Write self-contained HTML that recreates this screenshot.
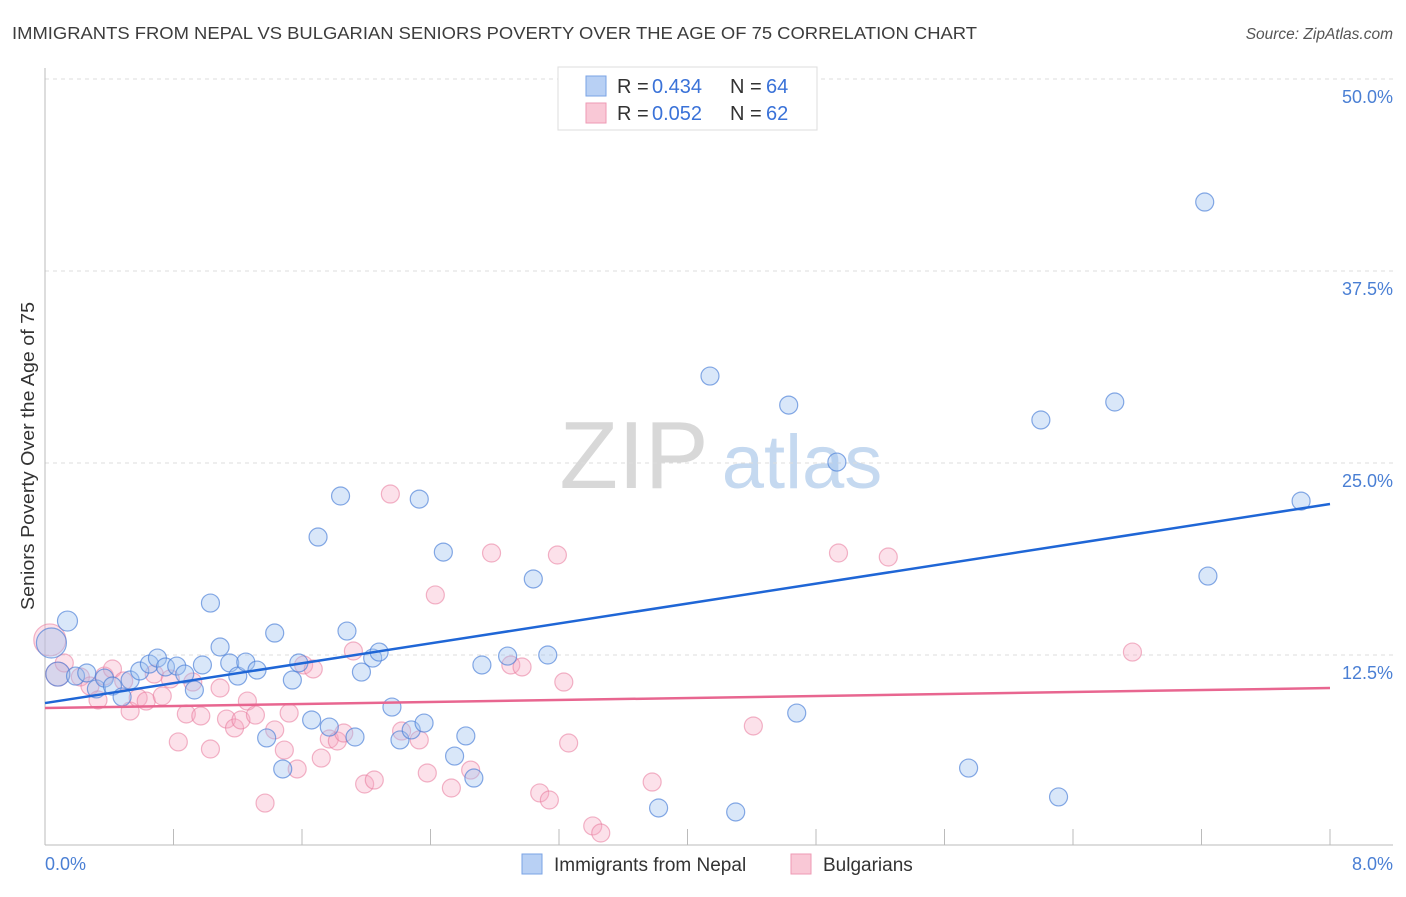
<!DOCTYPE html>
<html><head><meta charset="utf-8"><style>
body{margin:0;background:#fff;font-family:"Liberation Sans",sans-serif}
svg text{font-family:"Liberation Sans",sans-serif}
</style></head><body>
<svg id="chart" width="1406" height="892" viewBox="0 0 1406 892" xmlns="http://www.w3.org/2000/svg">
<text x="12" y="39" font-size="17.5" fill="#3c3c3c" textLength="965" lengthAdjust="spacingAndGlyphs">IMMIGRANTS FROM NEPAL VS BULGARIAN SENIORS POVERTY OVER THE AGE OF 75 CORRELATION CHART</text>
<text x="1393" y="39" font-size="15.5" fill="#555" font-style="italic" text-anchor="end">Source: ZipAtlas.com</text>
<g>
<text x="634" y="488" font-size="96" fill="#d8d8d8" font-family="Liberation Serif" text-anchor="middle">ZIP</text>
<text x="802" y="488" font-size="76" fill="#c5d9f0" text-anchor="middle">atlas</text>
</g>
<g id="grid"></g>
<g id="axes"></g>
<g id="pinkPts"></g>
<g id="bluePts"></g>
<g id="lines"></g>
<text transform="translate(34,456) rotate(-90)" font-size="18.5" fill="#333" text-anchor="middle" textLength="308" lengthAdjust="spacingAndGlyphs">Seniors Poverty Over the Age of 75</text>
<g>
<rect x="558" y="67" width="259" height="63" fill="#fff" stroke="#ddd"/>
<rect x="586" y="76" width="20" height="20" fill="#b8d0f4" stroke="#7aa3e5"/>
<rect x="586" y="103" width="20" height="20" fill="#f9c8d6" stroke="#ee9ab4"/>
<text x="617" y="93" font-size="20" fill="#333">R =</text>
<text x="652" y="93" font-size="20" fill="#3a72d8">0.434</text>
<text x="730" y="93" font-size="20" fill="#333">N =</text>
<text x="766" y="93" font-size="20" fill="#3a72d8">64</text>
<text x="617" y="120" font-size="20" fill="#333">R =</text>
<text x="652" y="120" font-size="20" fill="#3a72d8">0.052</text>
<text x="730" y="120" font-size="20" fill="#333">N =</text>
<text x="766" y="120" font-size="20" fill="#3a72d8">62</text>
</g>
<g>
<rect x="522" y="854" width="20" height="20" fill="#b8d0f4" stroke="#7aa3e5"/>
<text x="554" y="871" font-size="19" fill="#333">Immigrants from Nepal</text>
<rect x="791" y="854" width="20" height="20" fill="#f9c8d6" stroke="#ee9ab4"/>
<text x="823" y="871" font-size="19" fill="#333">Bulgarians</text>
</g>
</svg>
<script>
const yTicks=[12.5,25,37.5,50];
const yTickLabels=["12.5%","25.0%","37.5%","50.0%"];
const xTickLabels=["0.0%","8.0%"];
const nepalX=[0.04,0.14,0.08,0.19,0.26,0.32,0.37,0.42,0.48,0.53,0.59,0.65,0.70,0.75,0.82,0.87,0.93,0.98,1.03,1.09,1.15,1.20,1.25,1.32,1.38,1.43,1.48,1.54,1.58,1.66,1.70,1.77,1.84,1.88,1.93,1.97,2.04,2.08,2.16,2.21,2.28,2.33,2.36,2.48,2.55,2.62,2.67,2.72,2.88,3.04,3.13,3.82,4.14,4.30,4.63,4.68,4.93,5.75,6.20,6.31,6.66,7.22,7.24,7.82];
const nepalY=[13.28,14.71,11.26,11.13,11.33,10.29,11.00,10.48,9.77,10.87,11.46,11.91,12.30,11.72,11.78,11.26,10.22,11.85,15.88,13.02,11.98,11.13,12.04,11.52,7.10,13.93,5.08,10.87,11.98,8.27,20.18,7.81,22.85,14.06,7.16,11.39,12.30,12.69,9.11,6.97,7.62,22.65,8.07,19.20,5.92,7.23,4.49,11.85,12.43,17.45,12.50,2.54,30.66,2.28,28.77,8.72,25.06,5.14,27.80,3.26,28.97,41.99,17.64,22.52];
const nepalR=[15,10,12,9,9,9,9,9,9,9,9,9,9,9,9,9,9,9,9,9,9,9,9,9,9,9,9,9,9,9,9,9,9,9,9,9,9,9,9,9,9,9,9,9,9,9,9,9,9,9,9,9,9,9,9,9,9,9,9,9,9,9,9,9];
const bulgX=[0.03,0.08,0.12,0.22,0.28,0.33,0.37,0.42,0.49,0.53,0.58,0.63,0.68,0.73,0.78,0.83,0.88,0.92,0.97,1.03,1.09,1.13,1.18,1.22,1.26,1.31,1.37,1.43,1.49,1.52,1.57,1.61,1.67,1.72,1.77,1.82,1.86,1.92,1.99,2.05,2.15,2.22,2.33,2.38,2.43,2.53,2.65,2.78,2.90,2.97,3.08,3.14,3.19,3.23,3.26,3.41,3.46,3.78,4.41,4.94,5.25,6.77];
const bulgY=[13.48,11.26,11.98,11.07,10.48,9.57,11.13,11.59,10.81,8.85,9.70,9.50,11.26,9.83,10.94,6.84,8.66,10.74,8.53,6.38,10.35,8.33,7.75,8.27,9.50,8.59,2.86,7.62,6.31,8.72,5.08,11.85,11.59,5.79,7.03,6.90,7.42,12.76,4.10,4.36,22.98,7.55,6.97,4.82,16.41,3.84,5.01,19.14,11.85,11.72,3.52,3.06,19.01,10.74,6.77,1.37,0.91,4.23,7.88,19.14,18.88,12.69];
const bulgR=[16,12,9,9,9,9,9,9,9,9,9,9,9,9,9,9,9,9,9,9,9,9,9,9,9,9,9,9,9,9,9,9,9,9,9,9,9,9,9,9,9,9,9,9,9,9,9,9,9,9,9,9,9,9,9,9,9,9,9,9,9,9];
const nepalTrend=[9.37,22.33];
const bulgTrend=[9.05,10.35];
const X0=45,X1=1330,Y0=847,PX=192/12.5;
const sx=v=>X0+(v/8)*(X1-X0);
const sy=v=>Y0-v*PX;
const NS="http://www.w3.org/2000/svg";
function mk(tag,attrs,parent){const e=document.createElementNS(NS,tag);for(const k in attrs)e.setAttribute(k,attrs[k]);document.getElementById(parent).appendChild(e);return e;}
yTicks.forEach((t,i)=>{
 const g=mk('line',{x1:X0,x2:1393,y1:sy(t),y2:sy(t),stroke:'#ddd','stroke-dasharray':'4,4'},'grid');
 
 
 const tx=mk('text',{x:1393,y:sy(t)+24,'font-size':18,fill:'#4a7fd4','text-anchor':'end'},'grid');
 tx.textContent=yTickLabels[i];
 
 
});
const ax=mk('line',{x1:X0,x2:X0,y1:68,y2:845,stroke:'#bbb'},'axes');


const bx=mk('line',{x1:X0,x2:1393,y1:845,y2:845,stroke:'#bbb'},'axes');


for(let i=0;i<=10;i++){
 const t=mk('line',{x1:sx(i*0.8),x2:sx(i*0.8),y1:829,y2:845,stroke:'#bbb'},'axes');
 
 
}
const xl0=mk('text',{x:X0,y:870,'font-size':18,fill:'#4a7fd4'},'axes');xl0.textContent=xTickLabels[0];


const xl1=mk('text',{x:1393,y:870,'font-size':18,fill:'#4a7fd4','text-anchor':'end'},'axes');xl1.textContent=xTickLabels[1];


bulgX.forEach((v,i)=>{
 const c=mk('circle',{cx:sx(v),cy:sy(bulgY[i]),r:bulgR[i],fill:'rgba(246,170,195,0.35)',stroke:'rgba(232,120,155,0.55)','stroke-width':1.2},'pinkPts');
 
 
});
nepalX.forEach((v,i)=>{
 const c=mk('circle',{cx:sx(v),cy:sy(nepalY[i]),r:nepalR[i],fill:'rgba(160,195,240,0.4)',stroke:'rgba(70,125,215,0.65)','stroke-width':1.2},'bluePts');
 
 
});
const l1=mk('line',{x1:sx(0),x2:sx(8),y1:sy(nepalTrend[0]),y2:sy(nepalTrend[1]),stroke:'#1f66d6','stroke-width':2.5},'lines');


const l2=mk('line',{x1:sx(0),x2:sx(8),y1:sy(bulgTrend[0]),y2:sy(bulgTrend[1]),stroke:'#e86690','stroke-width':2.5},'lines');


</script>
</body></html>
